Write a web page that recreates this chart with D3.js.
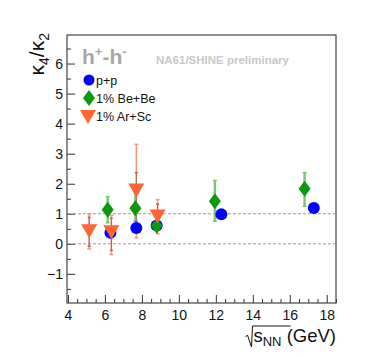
<!DOCTYPE html>
<html>
<head>
<meta charset="utf-8">
<script src="https://cdn.jsdelivr.net/npm/d3@7"></script>
<style>
  body { margin: 0; background: #fff; }
  svg text { font-family: "Liberation Sans", Arial, sans-serif; }
</style>
</head>
<body>
<div id="chart"></div>
<script>
// p+p
const ppX = [6.3, 7.7, 8.8, 12.3, 17.3]
const ppY = [0.37, 0.53, 0.61, 0.98, 1.19]
// 1% Be+Be
const beX = [6.15, 7.65, 8.8, 11.95, 16.8]
const beY = [1.13, 1.18, 0.6, 1.42, 1.83]
const beTop = [1.57, 1.70, 0.72, 2.11, 2.37]
const beBottom = [0.70, 0.75, 0.50, 0.75, 1.25]
// 1% Ar+Sc
const arX = [5.15, 6.35, 7.7, 8.85]
const arY = [0.45, 0.42, 1.81, 0.94]
const arSysTop = [0.98, 0.95, 3.31, 1.47]
const arSysBottom = [-0.17, -0.36, 0.2, 0.33]
const arStatTop = [0.88, 0.85, 2.37, 1.32]
const arStatBottom = [-0.08, -0.22, 0.75, 0.45]

const xTicks = [4, 6, 8, 10, 12, 14, 16, 18]
const yTicks = [-1, 0, 1, 2, 3, 4, 5, 6]
const refLines = [0, 1]

const W = 374, H = 357
const frame = {left: 67, right: 336, top: 35, bottom: 303}

const svg = d3.select('#chart').append('svg')
    .attr('width', W)
    .attr('height', H)

const x = d3.scaleLinear().domain([3.95, 18.5]).range([frame.left, frame.right])
const y = d3.scaleLinear().domain([-1.97, 6.95]).range([frame.bottom, frame.top])

// axes, ROOT style: ticks inside the frame
const xAxis = d3.axisBottom(x).tickValues(xTicks).tickSize(-8).tickPadding(7).tickFormat(d3.format('d'))
const xMinor = d3.axisBottom(x).tickValues(d3.range(4, 18.51, 0.5).filter(v => v % 2 !== 0)).tickSize(-4).tickFormat('')
const yAxis = d3.axisLeft(y).tickValues(yTicks).tickSize(-8).tickPadding(4).tickFormat(d => d < 0 ? '\u2212' + Math.abs(d) : d)
const yMinor = d3.axisLeft(y).tickValues(d3.range(-1.5, 6.9, 1)).tickSize(-4).tickFormat('')

const gx = svg.append('g').attr('transform', `translate(0,${frame.bottom})`).call(xAxis)
svg.append('g').attr('transform', `translate(0,${frame.bottom})`).call(xMinor)
const gy = svg.append('g').attr('transform', `translate(${frame.left},0)`).call(yAxis)
svg.append('g').attr('transform', `translate(${frame.left},0)`).call(yMinor)

svg.selectAll('.domain').remove()
svg.selectAll('.tick line').attr('stroke', '#333')
gx.selectAll('text').attr('font-size', 14).attr('fill', '#111')
gy.selectAll('text').attr('font-size', 14).attr('fill', '#111')

// frame
svg.append('rect')
    .attr('x', frame.left).attr('y', frame.top)
    .attr('width', frame.right - frame.left).attr('height', frame.bottom - frame.top)
    .attr('fill', 'none').attr('stroke', '#444').attr('stroke-width', 1.2)

// dashed reference lines
svg.selectAll('.ref').data(refLines).enter().append('line')
    .attr('x1', frame.left + 1).attr('x2', frame.right - 1)
    .attr('y1', d => y(d)).attr('y2', d => y(d))
    .attr('stroke', '#999').attr('stroke-width', 1).attr('stroke-dasharray', '3,2')

const orange = '#ff6633', green = '#0a990a', blue = '#0000ff'

const errBar = (g, xs, tops, bottoms, color, width, cap) => {
    xs.forEach((xv, i) => {
        g.append('line')
            .attr('x1', x(xv)).attr('x2', x(xv))
            .attr('y1', y(tops[i])).attr('y2', y(bottoms[i]))
            .attr('stroke', color).attr('stroke-width', width)
        ;[tops[i], bottoms[i]].forEach(v => {
            g.append('line')
                .attr('x1', x(xv) - cap).attr('x2', x(xv) + cap)
                .attr('y1', y(v)).attr('y2', y(v))
                .attr('stroke', color).attr('stroke-width', 1.5)
        })
    })
}

const marks = svg.append('g')

// Be+Be error bars
errBar(marks, beX, beTop, beBottom, '#7cc67c', 2.5, 2)
// Ar+Sc error bars (sys + stat)
errBar(marks, arX, arSysTop, arSysBottom, '#f6987a', 1.5, 2)
errBar(marks, arX, arStatTop, arStatBottom, '#a06a5a', 1, 1.5)

const diamond = (cx, cy) => `M${cx},${cy - 8}L${cx + 6},${cy}L${cx},${cy + 8}L${cx - 6},${cy}Z`
const triDown = (cx, cy) => `M${cx - 8},${cy - 6}L${cx + 8},${cy - 6}L${cx},${cy + 8}Z`

// p+p
marks.selectAll('.pp').data(ppX).enter().append('circle')
    .attr('cx', d => x(d)).attr('cy', (d, i) => y(ppY[i])).attr('r', 6)
    .attr('fill', blue)

// Be+Be
marks.selectAll('.be').data(beX).enter().append('path')
    .attr('d', (d, i) => diamond(x(d), y(beY[i])))
    .attr('fill', green)

// Ar+Sc
marks.selectAll('.ar').data(arX).enter().append('path')
    .attr('d', (d, i) => triDown(x(d), y(arY[i])))
    .attr('fill', orange)

// titles
svg.append('text')
    .attr('x', 82).attr('y', 64)
    .attr('font-size', 21).attr('font-weight', 'bold').attr('fill', '#a6a6a6')
    .html('h<tspan dy="-8" font-size="13">+</tspan><tspan dy="8">-h</tspan><tspan dy="-8" font-size="13">-</tspan>')

svg.append('text')
    .attr('x', 156).attr('y', 64)
    .attr('font-size', 11.5).attr('font-weight', 'bold').attr('fill', '#c8c8c8')
    .text('NA61/SHINE preliminary')

// legend
const legend = svg.append('g')
legend.append('circle').attr('cx', 89).attr('cy', 80).attr('r', 5.5).attr('fill', blue)
legend.append('path').attr('d', diamond(89, 98)).attr('fill', green)
legend.append('path').attr('d', triDown(88, 116)).attr('fill', orange)
const legendText = ['p+p', '1% Be+Be', '1% Ar+Sc']
legend.selectAll('.lt').data(legendText).enter().append('text')
    .attr('x', 96).attr('y', (d, i) => 84.5 + i * 18)
    .attr('font-size', 12.5).attr('fill', '#111')
    .text(d => d)

// axis titles
svg.append('text')
    .attr('transform', `translate(44,${frame.top - 2}) rotate(-90)`)
    .attr('text-anchor', 'end')
    .attr('font-size', 21).attr('fill', '#111')
    .html('\u03ba<tspan font-size="14" dy="5">4</tspan><tspan dy="-5">/\u03ba</tspan><tspan font-size="14" dy="5">2</tspan>')

const xl = svg.append('text')
    .attr('x', frame.right).attr('y', 342)
    .attr('text-anchor', 'end')
    .attr('font-size', 18.5).attr('fill', '#111')
    .html('s<tspan font-size="13" dy="4">NN</tspan><tspan dy="-4"> (GeV)</tspan>')

// square-root sign drawn over the s_NN
const bb = xl.node().getBBox()
const rx = bb.x - 2
svg.append('path')
    .attr('d', `M${rx - 6},${337}L${rx - 4},${335}L${rx},${347}L${rx + 1},${326}L${bb.x + 37},${326}`)
    .attr('fill', 'none').attr('stroke', '#111').attr('stroke-width', 1)
</script>
</body>
</html>
